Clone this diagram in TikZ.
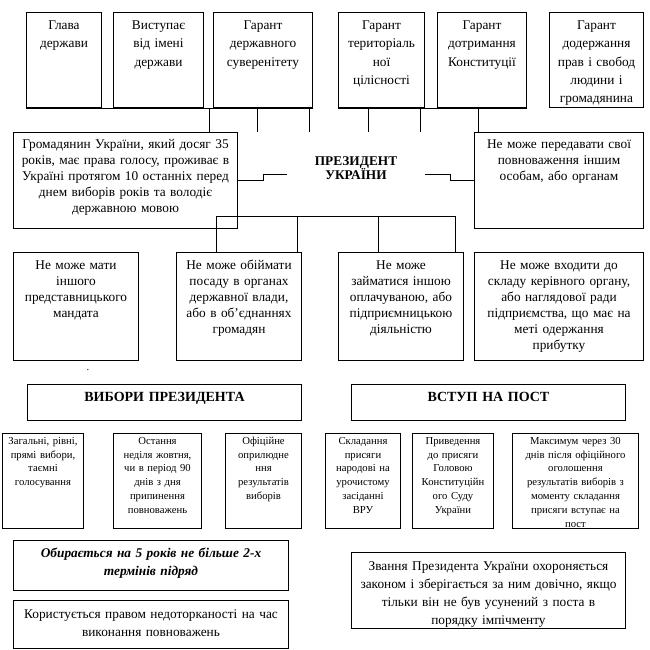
\documentclass[tikz,border=0pt]{standalone}
\usepackage{fontspec}
\setmainfont{Liberation Serif}
\usetikzlibrary{calc}

\tikzset{
caja/.style={draw,line width=0.75pt,anchor=north west,align=center,inner xsep=2pt,inner ysep=0pt,font=\fontsize{10}{12}\selectfont},
linea/.style={black,line width=0.75pt},
titulo/.style={font=\fontsize{10}{10.5}\selectfont\bfseries,align=center,inner sep=0pt}
}
% [baseline desde arriba]{nombre}{x1}{y1}{x2}{y2}{texto}
\newcommand{\caja}[7][12.5]{%
\pgfmathsetmacro{\anchoCaja}{(#5-#3)*0.75-4}%
\pgfmathsetmacro{\fondoCaja}{(#6-#4)*0.75-#1}%
\node[caja,text width=\anchoCaja pt,text height=#1pt,text depth=\fondoCaja pt] (#2) at (#3,#4) {#7};
}

\begin{document}
\begin{tikzpicture}[x=0.75pt,y=-0.75pt]
    \useasboundingbox (0,0) rectangle (650,650);

    % garantias
    \begin{scope}[caja/.append style={font=\fontsize{10}{13.7}\selectfont}]
    \caja[12.75]{t1}{26}{12}{101}{107}{Глава\\держави}
    \caja[12.75]{t2}{113}{12}{203}{107}{Виступає\\від імені\\держави}
    \caja[12.75]{t3}{213}{12}{312}{107}{Гарант\\державного\\суверенітету}
    \caja[12.75]{t4}{338}{12}{424}{107}{Гарант\\територіаль\\ної\\цілісності}
    \caja[12.75]{t5}{437}{12}{526}{107}{Гарант\\дотримання\\Конституції}
    \caja[12.75]{t6}{549}{12}{643}{107}{Гарант\\додержання\\прав і свобод\\людини і\\громадянина}
    \end{scope}

    % presidente
    \node[minimum width=103.5pt,minimum height=63pt,inner sep=0pt] (prezident) at (356,174) {};
    \node[titulo] (prezTexto) at ($(prezident)+(0,-6)$) {ПРЕЗИДЕНТ\\УКРАЇНИ};
    \caja[12]{ciudadano}{13}{132}{237}{228}{Громадянин України, який досяг 35\\років, має права голосу, проживає в\\Україні протягом 10 останніх перед\\днем виборів років та володіє\\державною мовою}
    \caja[12]{delegar}{474}{132}{643}{228}{Не може передавати свої\\повноваження іншим\\особам, або органам}

    % prohibiciones
    \caja[12.75]{r1}{13}{252}{138}{360}{Не може мати\\іншого\\представницького\\мандата}
    \caja[12.75]{r2}{176}{252}{301}{360}{Не може обіймати\\посаду в органах\\державної влади,\\або в об’єднаннях\\громадян}
    \caja[12.75]{r3}{338}{252}{463}{360}{Не може\\займатися іншою\\оплачуваною, або\\підприємницькою\\діяльністю}
    \caja[12.75]{r4}{474}{252}{643}{360}{Не може входити до\\складу керівного органу,\\або наглядової ради\\підприємства, що має на\\меті одержання\\прибутку}

    \node[font=\fontsize{8}{8}\selectfont,inner sep=0pt] (punto) at (88,370) {.};

    % eleccion y toma de posesion
    \begin{scope}[caja/.append style={font=\fontsize{10.5}{12}\selectfont\bfseries}]
    \caja[13]{elecciones}{27}{384}{301}{420}{ВИБОРИ ПРЕЗИДЕНТА}
    \caja[13]{toma}{351}{384}{625}{420}{ВСТУП НА ПОСТ}
    \end{scope}

    \begin{scope}[caja/.append style={font=\fontsize{8}{10.4}\selectfont}]
    \caja[8]{e1}{2}{433}{83}{528}{Загальні, рівні,\\прямі вибори,\\таємні\\голосування}
    \caja[8]{e2}{113}{433}{201}{528}{Остання\\неділя жовтня,\\чи в період 90\\днів з дня\\припинення\\повноважень}
    \caja[8]{e3}{225}{433}{301}{528}{Офіційне\\оприлюдне\\ння\\результатів\\виборів}
    \caja[8]{p1}{325}{433}{400}{528}{Складання\\присяги\\народові на\\урочистому\\засіданні\\ВРУ}
    \caja[8]{p2}{412}{433}{493}{528}{Приведення\\до присяги\\Головою\\Конституційн\\ого Суду\\України}
    \caja[8]{p3}{512}{433}{638}{528}{Максимум через 30\\днів після офіційного\\оголошення\\результатів виборів з\\моменту складання\\присяги вступає на\\пост}
    \end{scope}

    % mandato
    \begin{scope}[caja/.append style={font=\fontsize{10}{13.5}\selectfont}]
    \caja[12.5]{mandato}{13}{540}{288}{590}{\textbf{\textit{Обирається на 5 років не більше 2-х\\термінів підряд}}}
    \caja[13.5]{inmunidad}{13}{600}{288}{648}{Користується правом недоторканості на час\\виконання повноважень}
    \caja[13.5]{titulo}{351}{552}{625}{628}{Звання Президента України охороняється\\законом і зберігається за ним довічно, якщо\\тільки він не був усунений з поста в\\порядку імпічменту}
    \end{scope}

    % conexiones
    \draw[linea] (t1.south west) -- (t3.south east);
    \draw[linea] (t4.south west) -- (t5.south east);
    \foreach \x in {209,257,309,368,420,478}{
        \draw[linea] (\x,0 |- t1.south) -- (\x,0 |- prezident.north);
    }
    \draw[linea] (ciudadano.east) -- ++(25,0) |- ($(prezident.west)+(0,0)$);
    \draw[linea] (delegar.west) -- ++(-24,0) |- ($(prezident.east)+(0,0)$);
    \draw[linea] (216,0 |- prezident.south) -- (455,0 |- prezident.south);
    \foreach \x in {216,297,378,455}{
        \draw[linea] (\x,0 |- prezident.south) -- (\x,0 |- r2.north);
    }
\end{tikzpicture}
\end{document}
